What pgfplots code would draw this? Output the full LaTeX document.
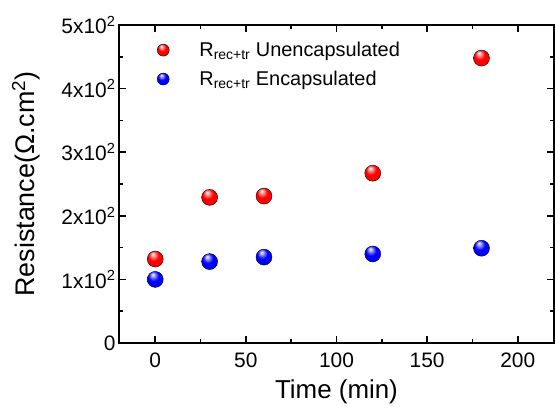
\documentclass[border=0pt]{standalone}
\usepackage{fontspec}
\setmainfont{Liberation Sans}
\usepackage{pgfplots}
\pgfplotsset{compat=1.18}
% shaded balls like the original markers
\pgfdeclareradialshading{redball}{\pgfqpoint{-8bp}{16bp}}{color(0bp)=(white); color(7bp)=(red!45!white); color(16bp)=(red); color(38bp)=(red); color(50bp)=(red!80!black)}
\pgfdeclareradialshading{blueball}{\pgfqpoint{-8bp}{16bp}}{color(0bp)=(white); color(7bp)=(blue!45!white); color(16bp)=(blue); color(38bp)=(blue); color(50bp)=(blue!80!black)}
\pgfdeclareplotmark{redball}{\shade[shading=redball] (0pt,0pt) circle (\pgfplotmarksize);}
\pgfdeclareplotmark{blueball}{\shade[shading=blueball] (0pt,0pt) circle (\pgfplotmarksize);}
\begin{document}
\begin{tikzpicture}
\begin{axis}[
  scale only axis,
  width=435bp,
  height=318bp,
  xmin=-20, xmax=220,
  ymin=0, ymax=500,
  xtick={0,50,100,150,200},
  ytick={0,100,200,300,400,500},
  yticklabels={0,1x10\textsuperscript{2},2x10\textsuperscript{2},3x10\textsuperscript{2},4x10\textsuperscript{2},5x10\textsuperscript{2}},
  minor x tick num=1,
  minor y tick num=1,
  tick align=inside,
  major tick length=7bp,
  minor tick length=4bp,
  axis line style={line width=1.5bp},
  every tick/.style={black, line width=1.5bp},
  /pgf/number format/assume math mode=true,
  tick label style={font=\fontsize{21}{25}\selectfont},
  xticklabel style={yshift=-6bp},
  xlabel={Time (min)},
  ylabel={Resistance(Ω.cm\textsuperscript{2})},
  every axis x label/.style={at={(axis description cs:0.5,-0.176)}, anchor=base, font=\fontsize{26}{31}\selectfont},
  every axis y label/.style={at={(axis description cs:-0.214,0.5)}, anchor=center, rotate=90, font=\fontsize{27}{32}\selectfont},
  legend style={draw=none, fill=none, inner sep=0pt, at={(axis description cs:0.087,0.953)}, anchor=north west,
    font=\fontsize{20}{24}\selectfont, row sep=9bp},
  legend cell align=left,
  legend image code/.code={\path (-6bp,0bp) (34bp,0bp); \draw[#1, mark size=6bp] plot coordinates {(0bp,0bp)};},
]
\addplot[only marks, mark=redball, mark size=8bp]
  coordinates {(0,132) (30,229) (60,231) (120,267) (180,448)};
\addlegendentry{R\textsubscript{rec+tr} Unencapsulated}
\addplot[only marks, mark=blueball, mark size=8bp]
  coordinates {(0,100) (30,128) (60,135) (120,140) (180,149)};
\addlegendentry{R\textsubscript{rec+tr} Encapsulated}
\end{axis}
\pgfresetboundingbox
\useasboundingbox (-119bp,-64bp) rectangle (436bp,343bp);
\end{tikzpicture}
\end{document}
